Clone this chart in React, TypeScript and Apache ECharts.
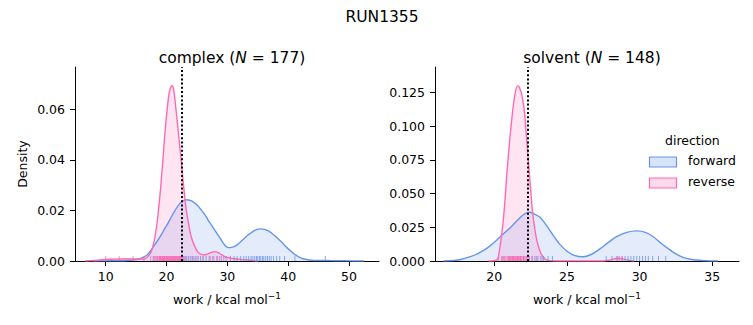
import React, { useEffect, useRef } from "react";
import * as echarts from "echarts";

// ---- complex phase: KDE curves ----
const complexForwardX = [8, 10, 12, 13.5, 14.5, 15.5, 16.4, 17, 17.5, 18, 18.6, 19.2, 19.7, 20.3, 20.8, 21.3, 21.8, 22.4, 23.2, 23.9, 24.5, 25.1, 25.7, 26.3, 26.8, 27.4, 27.9, 28.5, 29, 29.5, 30.05, 30.5, 31, 31.5, 32, 32.5, 33.07, 33.7, 34.3, 34.9, 35.5, 36.1, 36.8, 37.4, 37.98, 38.6, 39.1, 39.6, 40.2, 40.6, 41, 41.4, 41.8, 42.2, 42.6, 43.4, 44.2, 45, 46, 47, 48.5, 50, 52.5];
const complexForwardD = [0, 0.00005, 0.0001, 0.0002, 0.0004, 0.0008, 0.0017, 0.0029, 0.0045, 0.0062, 0.0083, 0.0106, 0.0128, 0.0152, 0.0175, 0.0196, 0.0215, 0.0232, 0.0242, 0.024, 0.0232, 0.0219, 0.0202, 0.0183, 0.0163, 0.0142, 0.0123, 0.0101, 0.0083, 0.0065, 0.0054, 0.0053, 0.0056, 0.0062, 0.0072, 0.0083, 0.0096, 0.0108, 0.0118, 0.0125, 0.0127, 0.0125, 0.0118, 0.0108, 0.0096, 0.0082, 0.007, 0.0057, 0.0044, 0.0035, 0.0027, 0.0021, 0.0015, 0.0011, 0.0008, 0.0004, 0.0002, 0.0002, 0.0002, 0.00015, 0.0001, 0.00005, 0];
const complexReverseX = [6.6, 8, 9, 10, 11, 12.2, 13.5, 14.5, 15.5, 16.2, 16.7, 17.2, 17.5, 17.75, 18.1, 18.5, 18.75, 19, 19.2, 19.4, 19.65, 19.9, 20.15, 20.4, 20.65, 20.9, 21.1, 21.3, 21.55, 21.85, 22.1, 22.4, 22.75, 23.1, 23.35, 23.6, 24.05, 24.6, 25.1, 25.6, 26.2, 26.8, 27.4, 27.9, 28.5, 29.1, 29.8, 30.8, 32, 33.5, 35];
const complexReverseD = [0, 0.0002, 0.0004, 0.0006, 0.0007, 0.0008, 0.0008, 0.0008, 0.0008, 0.0008, 0.0012, 0.0025, 0.0038, 0.0057, 0.0095, 0.0162, 0.022, 0.028, 0.034, 0.04, 0.048, 0.055, 0.061, 0.066, 0.0685, 0.0694, 0.0685, 0.0655, 0.06, 0.0532, 0.047, 0.04, 0.031, 0.0229, 0.0185, 0.015, 0.0096, 0.006, 0.0037, 0.0027, 0.0024, 0.0028, 0.0034, 0.0037, 0.0033, 0.0024, 0.0015, 0.001, 0.0007, 0.0003, 0];
const complexForwardRug = [17.8, 18.9, 19.6, 20.2, 20.7, 21.1, 21.5, 21.9, 22.2, 22.5, 22.8, 23.0, 23.3, 23.6, 23.9, 24.2, 24.5, 24.8, 25.2, 25.6, 26.0, 26.5, 27.0, 27.6, 28.3, 29.0, 29.8, 30.5, 31.1, 31.6, 32.2, 32.7, 33.1, 33.5, 33.9, 34.2, 34.5, 34.8, 35.0, 35.3, 35.5, 35.8, 36.0, 36.3, 36.6, 36.9, 37.2, 37.6, 38.1, 38.6, 39.4, 41.1, 46.1];
const complexReverseRug = [10.0, 12.2, 14.5, 16.3, 17.4, 18.0, 18.2, 18.4, 18.5, 18.6, 18.8, 18.9, 19.0, 19.1, 19.2, 19.3, 19.4, 19.5, 19.6, 19.7, 19.8, 19.9, 20.0, 20.1, 20.2, 20.3, 20.4, 20.5, 20.6, 20.7, 20.8, 20.9, 21.0, 21.1, 21.2, 21.3, 21.4, 21.5, 21.6, 21.7, 21.8, 21.9, 22.0, 22.1, 22.2, 22.3, 22.4, 22.5, 22.7, 23.1, 23.6, 24.3, 25.0, 26.0, 27.2, 27.8, 28.3, 28.7, 29.4, 30.5];
const complexMarker = 22.5;

// ---- solvent phase ----
const solventForwardX = [16.5, 17.2, 17.76, 18.3, 18.9, 19.5, 20.05, 20.6, 21.2, 21.8, 22.1, 22.39, 22.7, 23.15, 23.6, 24.06, 24.5, 24.98, 25.5, 26.1, 26.7, 27.27, 27.85, 28.42, 29.1, 29.8, 30.4, 30.94, 31.5, 32.09, 32.5, 33.0, 33.5, 33.93, 34.6, 35.4];
const solventForwardD = [0, 0.0004, 0.0013, 0.003, 0.0057, 0.0095, 0.0143, 0.0198, 0.0258, 0.0325, 0.035, 0.0361, 0.0352, 0.0324, 0.0262, 0.019, 0.0125, 0.0074, 0.0042, 0.0031, 0.005, 0.009, 0.0138, 0.018, 0.0212, 0.0223, 0.0212, 0.018, 0.013, 0.0082, 0.0052, 0.0027, 0.0013, 0.0007, 0.0002, 0];
const solventReverseX = [19.6, 20.0, 20.23, 20.39, 20.5, 20.62, 20.75, 20.85, 21.0, 21.15, 21.4, 21.61, 21.85, 22.06, 22.2, 22.34, 22.48, 22.62, 22.77, 22.92, 23.1, 23.26, 23.45, 23.61, 24.0, 24.5, 27.5, 28.0, 28.55, 29.1, 29.6];
const solventReverseD = [0, 0.0002, 0.0013, 0.0106, 0.019, 0.0304, 0.047, 0.0626, 0.082, 0.0995, 0.122, 0.13, 0.125, 0.112, 0.094, 0.075, 0.056, 0.0378, 0.025, 0.0156, 0.0085, 0.0045, 0.0018, 0.0007, 0.0001, 0, 0, 0.0008, 0.002, 0.0008, 0];
const solventForwardRug = [20.6, 21.0, 21.3, 21.6, 21.8, 22.0, 22.2, 22.4, 22.6, 22.8, 23.0, 23.2, 23.4, 23.7, 24.0, 27.7, 28.1, 28.5, 28.8, 29.0, 29.2, 29.4, 29.6, 29.8, 30.0, 30.2, 30.4, 30.6, 30.9, 31.3, 31.8];
const solventReverseRug = [20.3, 20.5, 20.6, 20.7, 20.8, 20.9, 21.0, 21.05, 21.1, 21.15, 21.2, 21.25, 21.3, 21.35, 21.4, 21.45, 21.5, 21.55, 21.6, 21.65, 21.7, 21.75, 21.8, 21.85, 21.9, 22.0, 22.05, 22.1, 22.2, 22.3, 22.4, 22.6, 22.9, 23.3, 28.4, 28.6, 28.8];
const solventMarker = 22.3;

// ---- axes ----
const complexXTicks = [10, 20, 30, 40, 50];
const complexYTicks = [0, 0.02, 0.04, 0.06];
const solventXTicks = [20, 25, 30, 35];
const solventYTicks = [0, 0.025, 0.05, 0.075, 0.1, 0.125];

const FONT = "DejaVu Sans";
const BLUE = "#6495ED";
const PINK = "#FF69B4";
const BLUE_FILL = "rgba(100,149,237,0.25)";
const PINK_FILL = "rgba(255,105,180,0.25)";

const zip = (xs: number[], ys: number[]) => xs.map((x, i) => [x, ys[i]]);

function kde(name: string, xs: number[], ys: number[], idx: number, color: string, fill: string, marker?: number) {
  const s: any = {
    type: "line",
    name,
    xAxisIndex: idx,
    yAxisIndex: idx,
    data: zip(xs, ys),
    smooth: 0.35,
    symbol: "none",
    lineStyle: { color, width: 1.4 },
    areaStyle: { color: fill, origin: "start" },
    z: 2,
  };
  if (marker !== undefined) {
    s.markLine = {
      symbol: "none",
      silent: true,
      label: { show: false },
      lineStyle: { color: "#000", type: [2, 2.2], width: 2 },
      data: [{ xAxis: marker }],
      z: 5,
    };
  }
  return s;
}

function rug(name: string, vals: number[], idx: number, color: string) {
  return {
    type: "scatter",
    name,
    xAxisIndex: idx,
    yAxisIndex: idx,
    data: vals.map((v) => [v, 0]),
    symbol: "rect",
    symbolSize: [1, 5],
    symbolOffset: [0, -2.5],
    itemStyle: { color, opacity: 0.8 },
    clip: false,
    z: 3,
  };
}

function xAxis(idx: number, min: number, max: number, ticks: number[]) {
  return {
    type: "value",
    gridIndex: idx,
    min,
    max,
    name: "work / kcal mol{sup|−1}",
    nameLocation: "middle",
    nameGap: 30,
    nameTextStyle: {
      fontFamily: FONT,
      fontSize: 12.5,
      color: "#000",
      lineHeight: 16,
      rich: { sup: { fontSize: 9, fontFamily: FONT, color: "#000", verticalAlign: "top", lineHeight: 16, padding: [0, 0, 6, 0] } },
    },
    axisLine: { show: true, onZero: false, lineStyle: { color: "#000", width: 1 } },
    axisTick: { show: true, length: 5, inside: false, customValues: ticks, lineStyle: { color: "#000", width: 1 } },
    axisLabel: { customValues: ticks, margin: 9, fontFamily: FONT, fontSize: 12.5, color: "#000" },
    splitLine: { show: false },
  };
}

function yAxis(idx: number, max: number, ticks: number[], digits: number, withName: boolean) {
  return {
    type: "value",
    gridIndex: idx,
    min: 0,
    max,
    name: withName ? "Density" : "",
    nameLocation: "middle",
    nameGap: 46,
    nameTextStyle: { fontFamily: FONT, fontSize: 12.5, color: "#000" },
    axisLine: { show: true, lineStyle: { color: "#000", width: 1 } },
    axisTick: { show: true, length: 5, inside: false, customValues: ticks, lineStyle: { color: "#000", width: 1 } },
    axisLabel: {
      customValues: ticks,
      margin: 10,
      fontFamily: FONT,
      fontSize: 12.5,
      color: "#000",
      formatter: (v: number) => v.toFixed(digits),
    },
    splitLine: { show: false },
  };
}

export default function App() {
  const ref = useRef<HTMLDivElement>(null);
  useEffect(() => {
    document.body.style.margin = "0";
    const chart = echarts.init(ref.current!, undefined, { renderer: "svg" });
    const titleRich = { i: { fontStyle: "italic", fontFamily: FONT, fontSize: 15.5, color: "#000" } };
    chart.setOption({
      animation: false,
      backgroundColor: "#fff",
      textStyle: { fontFamily: FONT },
      title: [
        { text: "RUN1355", left: 377, top: 4, textAlign: "center", textStyle: { fontFamily: FONT, fontSize: 15.5, fontWeight: "normal", color: "#000" } },
        { text: "complex ({i|N} = 177)", left: 227, top: 45, textAlign: "center", textStyle: { fontFamily: FONT, fontSize: 15.5, fontWeight: "normal", color: "#000", rich: titleRich } },
        { text: "solvent ({i|N} = 148)", left: 587, top: 45, textAlign: "center", textStyle: { fontFamily: FONT, fontSize: 15.5, fontWeight: "normal", color: "#000", rich: titleRich } },
      ],
      grid: [
        { left: 75, top: 67, width: 304, height: 194 },
        { left: 435, top: 67, width: 304, height: 194 },
      ],
      xAxis: [xAxis(0, 4.95, 54.93, complexXTicks), xAxis(1, 15.92, 36.84, solventXTicks)],
      yAxis: [yAxis(0, 0.0767, complexYTicks, 2, true), yAxis(1, 0.1438, solventYTicks, 3, false)],
      series: [
        kde("forward", complexForwardX, complexForwardD, 0, BLUE, BLUE_FILL, complexMarker),
        kde("reverse", complexReverseX, complexReverseD, 0, PINK, PINK_FILL),
        rug("forward rug", complexForwardRug, 0, BLUE),
        rug("reverse rug", complexReverseRug, 0, PINK),
        kde("forward", solventForwardX, solventForwardD, 1, BLUE, BLUE_FILL, solventMarker),
        kde("reverse", solventReverseX, solventReverseD, 1, PINK, PINK_FILL),
        rug("forward rug", solventForwardRug, 1, BLUE),
        rug("reverse rug", solventReverseRug, 1, PINK),
      ],
      graphic: [
        { type: "text", left: 665, top: 134, style: { text: "direction", fontFamily: FONT, fontSize: 12.5, fill: "#000" } },
        { type: "rect", shape: { x: 649.5, y: 157, width: 27, height: 10 }, style: { fill: BLUE_FILL, stroke: BLUE, lineWidth: 1.2 } },
        { type: "text", left: 688, top: 154, style: { text: "forward", fontFamily: FONT, fontSize: 12.5, fill: "#000" } },
        { type: "rect", shape: { x: 649.5, y: 178, width: 27, height: 10 }, style: { fill: PINK_FILL, stroke: PINK, lineWidth: 1.2 } },
        { type: "text", left: 688, top: 175, style: { text: "reverse", fontFamily: FONT, fontSize: 12.5, fill: "#000" } },
      ],
    });
    return () => chart.dispose();
  }, []);
  return <div ref={ref} style={{ position: "absolute", left: 0, top: 0, width: 753, height: 325 }} />;
}
